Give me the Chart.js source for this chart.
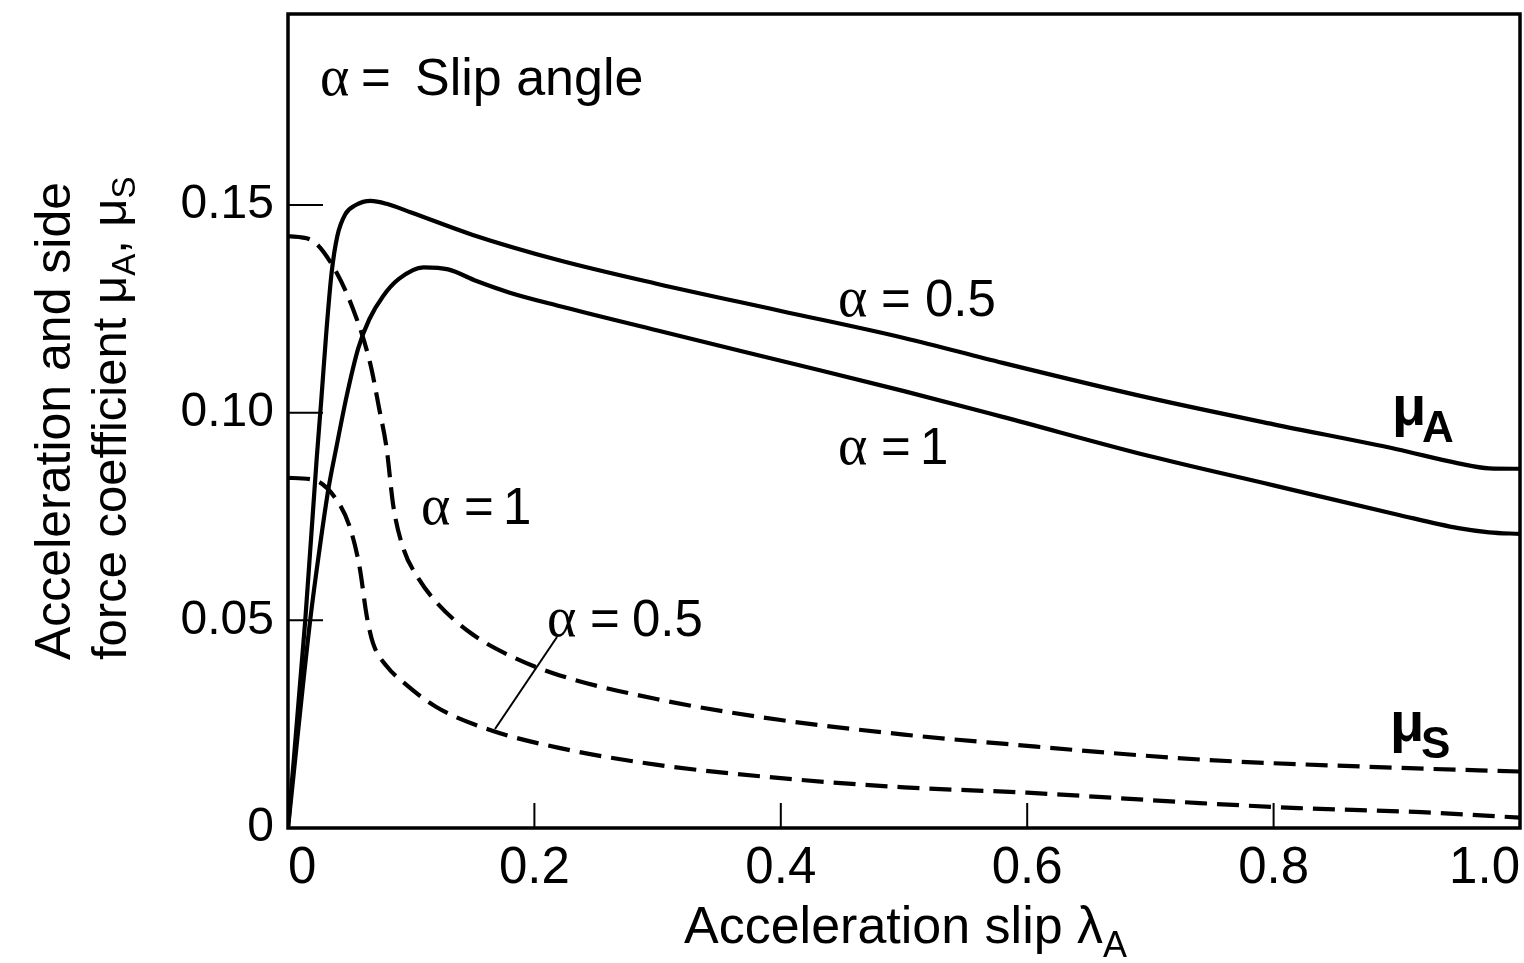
<!DOCTYPE html>
<html><head><meta charset="utf-8">
<script src="https://cdn.jsdelivr.net/npm/chart.js@4"></script>
<style>html,body{margin:0;padding:0;background:#fff}#wrap{width:1524px;height:963px;position:relative}</style>
</head><body><div id="wrap"><canvas id="c"></canvas></div>
<script>
// Acceleration force coefficient muA, slip angle 0.5 (solid, upper)
const slipA05 = [0,0.014,0.0233,0.027,0.031,0.0354,0.04,0.0465,0.055,0.067,0.08,0.1,0.15,0.22,0.3,0.4,0.5,0.58,0.7,0.8,0.9,0.95,0.975,1.0];
const muA05   = [0,0.05,0.089,0.103,0.119,0.1337,0.1425,0.1478,0.1500,0.151,0.1503,0.1482,0.1428,0.1367,0.131,0.1245,0.118,0.112,0.1035,0.0972,0.0912,0.0878,0.0866,0.0865];
// Acceleration force coefficient muA, slip angle 1 (solid, lower)
const slipA1 = [0,0.018,0.026,0.033,0.0395,0.0476,0.057,0.066,0.077,0.09,0.11,0.13,0.153,0.18,0.22,0.3,0.4,0.5,0.58,0.7,0.8,0.9,0.95,0.975,1.0];
const muA1   = [0,0.05,0.068,0.082,0.092,0.104,0.1155,0.1225,0.128,0.1322,0.135,0.1345,0.1317,0.1289,0.1257,0.1198,0.1125,0.1052,0.099,0.0895,0.0825,0.0755,0.0722,0.0712,0.0708];
// Side force coefficient muS, slip angle 1 (dashed, upper)
const slipS1 = [0,0.018,0.035,0.053,0.0666,0.074,0.08,0.0855,0.094,0.105,0.12,0.148,0.18,0.22,0.3,0.4,0.5,0.58,0.74,0.9,1.0];
const muS1   = [0.1425,0.1417,0.136,0.1248,0.112,0.101,0.0915,0.0775,0.067,0.0605,0.0545,0.047,0.0415,0.0368,0.031,0.026,0.0225,0.0203,0.0165,0.0145,0.0136];
// Side force coefficient muS, slip angle 0.5 (dashed, lower)
const slipS05 = [0,0.02,0.0395,0.05,0.058,0.064,0.069,0.08,0.094,0.12,0.164,0.22,0.3,0.4,0.5,0.6,0.74,0.82,0.92,1.0];
const muS05   = [0.0843,0.0839,0.079,0.0726,0.063,0.0509,0.0445,0.039,0.035,0.0292,0.0236,0.0193,0.0152,0.012,0.0098,0.0085,0.006,0.0048,0.0038,0.0025];

const xTickValues = [0,0.2,0.4,0.6,0.8,1.0];
const xTickLabels = ['0','0.2','0.4','0.6','0.8','1.0'];
const yTickValues = [0,0.05,0.10,0.15];
const yTickLabels = ['0','0.05','0.10','0.15'];

const pts = (xs, ys) => xs.map((x,i)=>({x:x, y:ys[i]}));
const SANS = '"Liberation Sans", Arial, Helvetica, sans-serif';
const SERIF = '"Liberation Serif", "DejaVu Serif", serif';

function ds(xs, ys, dashed){
  return {data: pts(xs,ys), borderColor:'#000', borderWidth:4.2, borderDash: dashed?[22,10]:[],
    pointRadius:0, showLine:true, fill:false, cubicInterpolationMode:'monotone'};
}

function txt(ctx, s, x, y, font){ ctx.font = font; ctx.fillText(s, x, y); }

const decor = {
  id:'decor',
  afterDraw(chart){
    const {ctx, chartArea:a, scales:{x, y}} = chart;
    ctx.save();
    ctx.strokeStyle = '#000'; ctx.fillStyle = '#000';
    ctx.lineWidth = 3.5;
    ctx.strokeRect(a.left, a.top, a.right - a.left, a.bottom - a.top);
    ctx.lineWidth = 2;
    ctx.beginPath();
    yTickValues.forEach(v => { if (v === 0) return; const py = y.getPixelForValue(v); ctx.moveTo(a.left, py); ctx.lineTo(a.left + 35, py); });
    xTickValues.forEach(v => { if (v === 0 || v === 1) return; const px = x.getPixelForValue(v); ctx.moveTo(px, a.bottom); ctx.lineTo(px, a.bottom - 25); });
    ctx.stroke();
    // leader line for dashed alpha=0.5 label
    ctx.lineWidth = 2;
    ctx.beginPath(); ctx.moveTo(557, 637); ctx.lineTo(495, 729); ctx.stroke();

    ctx.textAlign = 'left'; ctx.textBaseline = 'alphabetic';
    const A = '56px ' + SERIF, F = '51px ' + SANS;
    // alpha = Slip angle
    txt(ctx, 'α', 320, 95, A); txt(ctx, '=', 361, 95, F); txt(ctx, 'Slip angle', 415, 95, '52px ' + SANS);
    // alpha = 0.5 (muA)
    txt(ctx, 'α', 838, 316, A); txt(ctx, '=', 881, 316, F); txt(ctx, '0.5', 925, 316, F);
    // alpha = 1 (muA)
    txt(ctx, 'α', 838, 464, A); txt(ctx, '=', 881, 464, F); txt(ctx, '1', 920, 464, F);
    // alpha = 1 (muS)
    txt(ctx, 'α', 421, 524, A); txt(ctx, '=', 464, 524, F); txt(ctx, '1', 503, 524, F);
    // alpha = 0.5 (muS)
    txt(ctx, 'α', 547, 636, A); txt(ctx, '=', 590, 636, F); txt(ctx, '0.5', 632, 636, F);
    // muA, muS
    txt(ctx, 'μ', 1392, 425, 'bold 56px ' + SANS); txt(ctx, 'A', 1422, 442, 'bold 44px ' + SANS);
    txt(ctx, 'μ', 1390, 741, 'bold 56px ' + SANS); txt(ctx, 'S', 1421, 758, 'bold 44px ' + SANS);
    // x title
    ctx.font = '52px ' + SANS;
    const t1 = 'Acceleration slip λ';
    ctx.fillText(t1, 684, 943);
    const w1 = ctx.measureText(t1).width;
    txt(ctx, 'A', 684 + w1, 957, '36px ' + SANS);
    // y title (rotated)
    ctx.save();
    ctx.translate(70, 660); ctx.rotate(-Math.PI/2);
    txt(ctx, 'Acceleration and side', 0, 0, '50px ' + SANS);
    ctx.restore();
    ctx.save();
    ctx.translate(126, 660); ctx.rotate(-Math.PI/2);
    let px = 0;
    const parts = [['force coefficient μ','49px',0],['A','33px',9],[', μ','49px',0],['S','33px',9]];
    parts.forEach(p => { ctx.font = p[1] + ' ' + SANS; ctx.fillText(p[0], px, p[2]); px += ctx.measureText(p[0]).width; });
    ctx.restore();
    ctx.restore();
  }
};

new Chart(document.getElementById('c'), {
  type: 'scatter',
  data: { datasets: [ ds(slipA05, muA05, false), ds(slipA1, muA1, false), ds(slipS1, muS1, true), ds(slipS05, muS05, true) ] },
  options: {
    responsive: true, maintainAspectRatio: false, animation: false,
    layout: { padding: { top: 14, right: 4, left: 0, bottom: 0 } },
    plugins: { legend: { display: false }, tooltip: { enabled: false } },
    scales: {
      x: {
        type: 'linear', min: 0, max: 1,
        afterBuildTicks: s => { s.ticks = xTickValues.map(v => ({value: v})); },
        ticks: { callback: v => xTickLabels[xTickValues.findIndex(t => Math.abs(t - v) < 1e-9)],
          font: { family: SANS, size: 51 }, color: '#000', padding: 10, align: 'inner', maxRotation: 0, autoSkip: false },
        grid: { display: false, drawTicks: false }, border: { display: false },
        afterFit: s => { s.height = 135; s.paddingLeft = 0; s.paddingRight = 0; }
      },
      y: {
        type: 'linear', min: 0, max: 0.196,
        afterBuildTicks: s => { s.ticks = yTickValues.map(v => ({value: v})); },
        ticks: { callback: v => yTickLabels[yTickValues.findIndex(t => Math.abs(t - v) < 1e-9)],
          font: { family: SANS, size: 48 }, color: '#000', padding: 14, autoSkip: false },
        grid: { display: false, drawTicks: false }, border: { display: false },
        afterFit: s => { s.width = 288; s.paddingTop = 0; s.paddingBottom = 0; }
      }
    }
  },
  plugins: [decor]
});
</script></body></html>
